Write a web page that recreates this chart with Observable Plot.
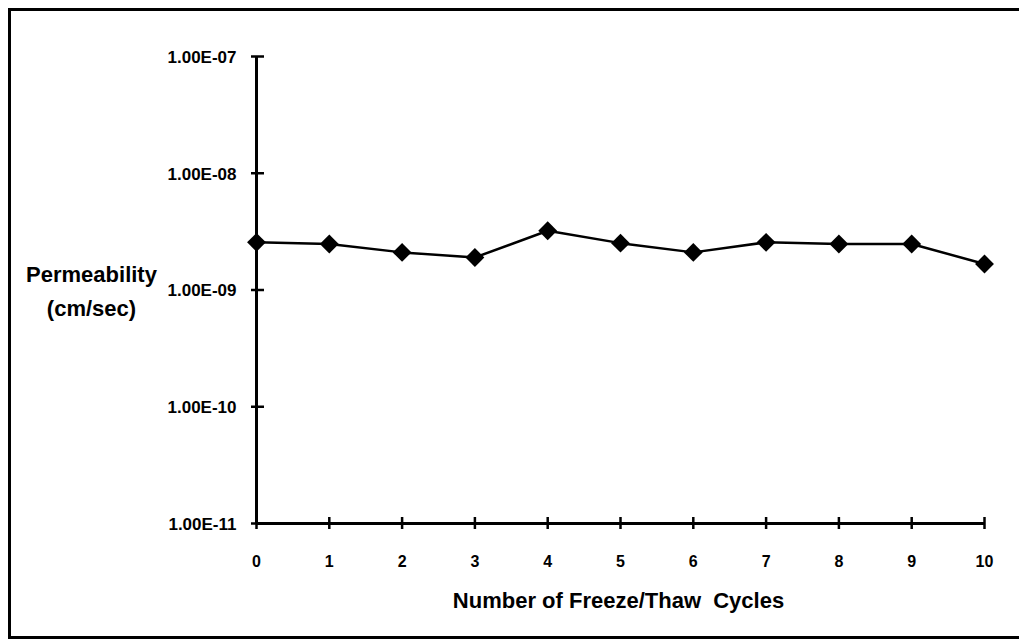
<!DOCTYPE html>
<html>
<head>
<meta charset="utf-8">
<script src="https://cdn.jsdelivr.net/npm/d3@7"></script>
<script src="https://cdn.jsdelivr.net/npm/@observablehq/plot@0.6"></script>
<style>
html,body{margin:0;padding:0;background:#fff;overflow:hidden;width:1019px;height:640px}
#wrap{position:relative;width:1019px;height:640px}
#wrap svg{position:absolute;left:0;top:0}
#border{position:absolute;left:8px;top:8px;width:1040px;height:631px;border:3px solid #000;box-sizing:border-box;pointer-events:none}
</style>
</head>
<body>
<div id="wrap"><div id="border"></div></div>
<script>
// Data
const cycles = [0, 1, 2, 3, 4, 5, 6, 7, 8, 9, 10];
const permeability = [2.56e-9, 2.48e-9, 2.1e-9, 1.9e-9, 3.22e-9, 2.52e-9, 2.1e-9, 2.56e-9, 2.48e-9, 2.48e-9, 1.67e-9];
const xTicks = [0, 1, 2, 3, 4, 5, 6, 7, 8, 9, 10];
const yTicks = [1e-11, 1e-10, 1e-9, 1e-8, 1e-7];
const yTickLabels = ["1.00E-11", "1.00E-10", "1.00E-09", "1.00E-08", "1.00E-07"];
const xTitle = "Number of Freeze/Thaw  Cycles";
const yTitle = "Permeability\n(cm/sec)";

const data = cycles.map((c, i) => ({cycle: c, k: permeability[i]}));

const chart = Plot.plot({
  width: 1019,
  height: 640,
  marginLeft: 256,
  marginRight: 35,
  marginTop: 56,
  marginBottom: 117,
  x: {domain: [0, 10], axis: null},
  y: {type: "log", domain: [1e-11, 1e-7], axis: null},
  style: {fontFamily: "'Liberation Sans', Arial, sans-serif", background: "transparent", whiteSpace: "pre", color: "#000"},
  marks: [
    // axis lines
    Plot.ruleX([0], {stroke: "#000", strokeWidth: 3}),
    Plot.ruleY([1e-11], {x1: 0, x2: 10, stroke: "#000", strokeWidth: 3}),
    // crossing ticks
    Plot.ruleY(yTicks, {y: d => d, x1: 0, x2: 0, insetLeft: -5, insetRight: -8, stroke: "#000", strokeWidth: 2.5}),
    Plot.ruleX(xTicks, {x: d => d, y1: 1e-11, y2: 1e-11, insetTop: -6, insetBottom: -6, stroke: "#000", strokeWidth: 2.5}),
    // tick labels
    Plot.text(yTicks, {x: 0, y: d => d, text: (d, i) => yTickLabels[i], textAnchor: "end", dx: -20, dy: 1, fontSize: 17, fontWeight: "bold", fill: "#000"}),
    Plot.text(xTicks, {x: d => d, y: 1e-11, text: d => String(d), dy: 38, fontSize: 16, fontWeight: "bold", fill: "#000"}),
    // axis titles
    Plot.text([yTitle], {frameAnchor: "left", text: d => d, textAnchor: "middle", dx: -165, dy: -2, fontSize: 22, fontWeight: "bold", lineHeight: 1.55, fill: "#000"}),
    Plot.text([xTitle], {frameAnchor: "bottom", text: d => d, dx: -2, dy: 84, fontSize: 22, fontWeight: "bold", fill: "#000"}),
    // series
    Plot.line(data, {x: "cycle", y: "k", stroke: "#000", strokeWidth: 2.5}),
    Plot.dot(data, {x: "cycle", y: "k", symbol: "diamond2", r: 8.5, fill: "#000", stroke: "none"})
  ]
});
document.getElementById("wrap").appendChild(chart);
</script>
</body>
</html>
